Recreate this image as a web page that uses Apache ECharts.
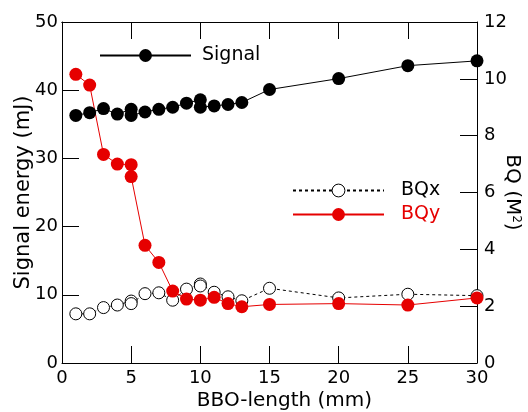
<!DOCTYPE html>
<html>
<head>
<meta charset="utf-8">
<script src="https://cdn.jsdelivr.net/npm/echarts@6/dist/echarts.min.js"></script>
<style>html,body{margin:0;padding:0;background:#fff}#c{width:528px;height:412px}</style>
</head>
<body>
<div id="c"></div>
<script>
// BBO length (mm) for each measurement
const bboLength = [1, 2, 3, 4, 5, 5, 6, 7, 8, 9, 10, 10, 11, 12, 13, 15, 20, 25, 30];
// Signal energy (mJ), left axis
const signalEnergy = [36.3, 36.7, 37.3, 36.5, 37.2, 36.3, 36.8, 37.2, 37.5, 38.1, 38.6, 37.5, 37.7, 37.9, 38.2, 40.1, 41.7, 43.6, 44.3];
// Beam quality x (M^2), right axis
const bqx = [1.73, 1.73, 1.95, 2.04, 2.18, 2.09, 2.44, 2.47, 2.21, 2.60, 2.78, 2.71, 2.49, 2.33, 2.19, 2.63, 2.29, 2.42, 2.37];
// Beam quality y (M^2), right axis
const bqy = [10.16, 9.78, 7.34, 7.00, 6.98, 6.56, 4.14, 3.54, 2.53, 2.25, 2.21, 2.31, 2.09, 1.98, 2.06, 2.09, 2.04, 2.29];
const bqyLength = [1, 2, 3, 4, 5, 5, 6, 7, 8, 9, 10, 11, 12, 13, 15, 20, 25, 30];

const pairs = (xs, ys) => xs.map((x, i) => [x, ys[i]]);
const FONT = 'DejaVu Sans';
const RED = '#e60000';

const chart = echarts.init(document.getElementById('c'), null, {renderer: 'canvas'});
const tickStyle = () => ({show: true, inside: false, length: -17, lineStyle: {color: '#000', width: 1}});
const lineStyle = () => ({show: true, lineStyle: {color: '#000', width: 1}});
const labelStyle = (m) => ({color: '#000', fontSize: 18, fontFamily: FONT, margin: m});
const gridBox = {left: 62, right: 51, top: 22, bottom: 49, containLabel: false, outerBoundsMode: 'none'};

chart.setOption({
  animation: false,
  backgroundColor: '#fff',
  grid: [Object.assign({}, gridBox), Object.assign({}, gridBox)],
  legend: [
    {data: ['Signal'], left: 94, top: 41, itemWidth: 91, itemHeight: 16,
     textStyle: {color: '#000', fontSize: 19, fontFamily: FONT, padding: [0, 0, 0, 6]}},
    {data: ['BQx'], left: 287, top: 176, itemWidth: 91, itemHeight: 16,
     itemStyle: {borderWidth: 1},
     textStyle: {color: '#000', fontSize: 19, fontFamily: FONT, padding: [0, 0, 0, 12]}},
    {data: ['BQy'], left: 287, top: 200, itemWidth: 91, itemHeight: 16,
     textStyle: {color: RED, fontSize: 19, fontFamily: FONT, padding: [0, 0, 0, 12]}}
  ],
  xAxis: [
    {gridIndex: 0, type: 'value', min: 0, max: 30, interval: 5, position: 'bottom',
     axisLine: lineStyle(), axisTick: tickStyle(), splitLine: {show: false},
     axisLabel: labelStyle(6),
     name: 'BBO-length (mm)', nameLocation: 'middle', nameGap: 28, nameMoveOverlap: false,
     nameTextStyle: {color: '#000', fontSize: 20, fontFamily: FONT, padding: [0, 0, 0, 30]}},
    // top frame line of the main grid; reversed so its zero lies on the right edge
    {gridIndex: 0, type: 'value', min: 0, max: 30, interval: 5, position: 'top', inverse: true,
     axisLine: {show: true, onZero: false, lineStyle: {color: '#000', width: 1}},
     axisTick: {show: false}, splitLine: {show: false}, axisLabel: {show: false}},
    // top tick marks, drawn in an overlay grid of the same size
    {gridIndex: 1, type: 'value', min: 0, max: 30, interval: 5, position: 'top',
     axisLine: lineStyle(), axisTick: tickStyle(), splitLine: {show: false},
     axisLabel: {show: false}}
  ],
  yAxis: [
    {gridIndex: 0, type: 'value', min: 0, max: 50, interval: 10, position: 'left',
     axisLine: lineStyle(), axisTick: tickStyle(), splitLine: {show: false},
     axisLabel: labelStyle(4),
     name: 'Signal energy (mJ)', nameLocation: 'middle', nameGap: 28, nameMoveOverlap: false,
     nameTextStyle: {color: '#000', fontSize: 21, fontFamily: FONT}},
    {gridIndex: 0, type: 'value', min: 0, max: 12, interval: 2, position: 'right',
     axisLine: lineStyle(), axisTick: tickStyle(), splitLine: {show: false},
     axisLabel: labelStyle(7),
     name: 'BQ (M{sup|2})', nameLocation: 'middle', nameGap: 25, nameRotate: -90, nameMoveOverlap: false,
     nameTextStyle: {color: '#000', fontSize: 20, fontFamily: FONT,
       rich: {sup: {fontSize: 12, verticalAlign: 'top', fontFamily: FONT, color: '#000', padding: [0, 0, 8, 0]}}}},
    // reversed helper in the overlay grid: its zero lies on the top edge
    {gridIndex: 1, type: 'value', min: 0, max: 1, inverse: true, position: 'left',
     axisLine: {show: false}, axisTick: {show: false}, axisLabel: {show: false}, splitLine: {show: false}}
  ],
  series: [
    {name: 'BQx', type: 'line', xAxisIndex: 0, yAxisIndex: 1, data: pairs(bboLength, bqx),
     symbol: 'circle', symbolSize: 12, z: 2,
     itemStyle: {color: '#fff', borderColor: '#000', borderWidth: 1},
     lineStyle: {color: '#000', width: 1, type: [3, 3]}},
    {name: 'BQy', type: 'line', xAxisIndex: 0, yAxisIndex: 1, data: pairs(bqyLength, bqy),
     symbol: 'circle', symbolSize: 13, z: 3,
     itemStyle: {color: RED, borderColor: RED, borderWidth: 0},
     lineStyle: {color: RED, width: 1}},
    {name: 'Signal', type: 'line', xAxisIndex: 0, yAxisIndex: 0, data: pairs(bboLength, signalEnergy),
     symbol: 'circle', symbolSize: 13, z: 4,
     itemStyle: {color: '#000', borderWidth: 0},
     lineStyle: {color: '#000', width: 1}}
  ]
});
</script>
</body>
</html>
